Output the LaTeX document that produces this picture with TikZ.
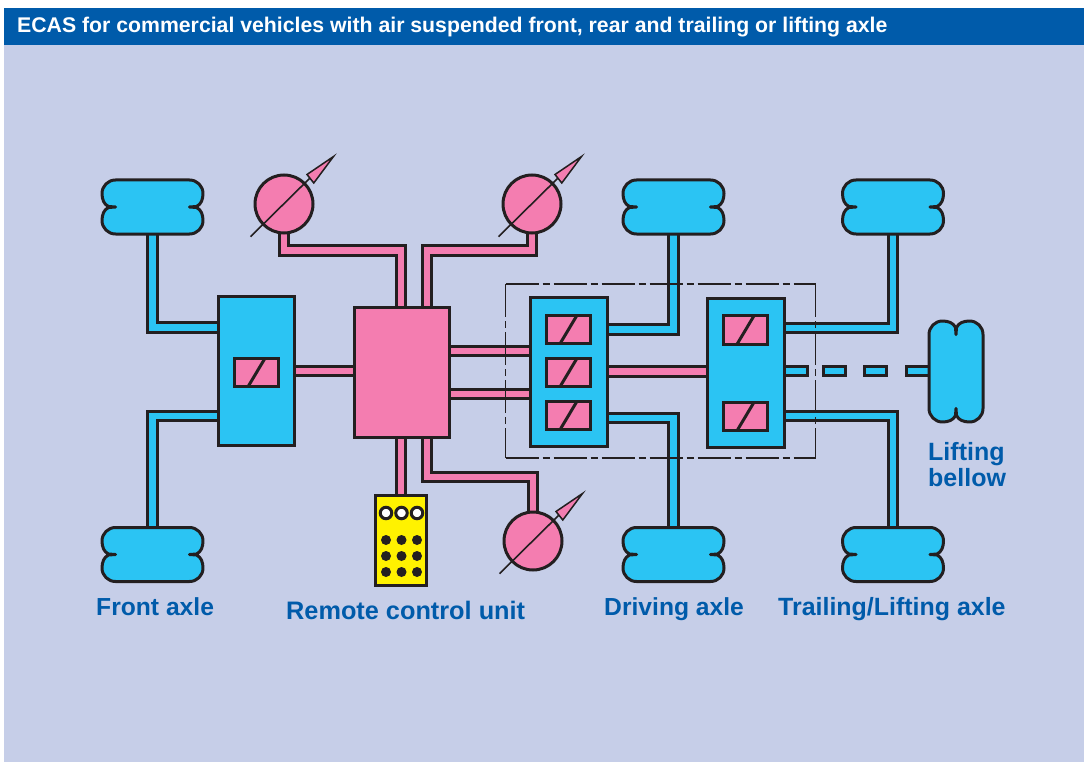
\documentclass[tikz,border=0pt]{standalone}
\usepackage{fontspec}
\setmainfont{Liberation Sans}
\definecolor{ink}{HTML}{231F20}
\definecolor{panelbg}{HTML}{C6CEE8}
\definecolor{headbg}{HTML}{005BAA}
\definecolor{cyanfill}{HTML}{2BC4F3}
\definecolor{pinkfill}{HTML}{F47DB0}
\definecolor{yellowfill}{HTML}{FFF200}
\pgfdeclarelayer{panel}
\pgfdeclarelayer{pipes}
\pgfsetlayers{panel,pipes,main}
\tikzset{
  x=1pt,y=-1pt,
  outline/.style={draw=ink,line width=3pt,outer sep=0pt,inner sep=0pt},
  bluebox/.style={outline,rectangle,fill=cyanfill},
  pinkbox/.style={outline,rectangle,fill=pinkfill},
  bluepipe/.style={draw=ink,line width=3pt,double=cyanfill,double distance=6.6pt,line join=miter},
  pinkpipe/.style={draw=ink,line width=3pt,double=pinkfill,double distance=6.6pt,line join=miter},
  bellowspot/.style={rectangle,minimum width=103pt,minimum height=54pt,inner sep=0pt,outer sep=0pt},
  vbellowspot/.style={rectangle,minimum width=54pt,minimum height=103pt,inner sep=0pt,outer sep=0pt},
  dashstub/.style={bluebox,minimum height=9.6pt},
  gaugebody/.style={outline,circle,fill=pinkfill,minimum size=58pt},
  frameline/.style={draw=ink,line width=1.5pt,dash pattern=on 33pt off 4pt on 7pt off 4pt},
  caption/.style={text=headbg,font=\bfseries\fontsize{24.65}{27}\selectfont,inner sep=0pt,anchor=base west},
  hbellow/.pic={
    \draw[fill=cyanfill,draw=ink,line width=3pt,line join=round]
      (-37,-27) -- (37,-27)
      .. controls (44.5,-27) and (50.5,-21) .. (50.5,-13.5)
      .. controls (50.5,-7.5) and (48.5,-2.5) .. (44,-0.5) -- (37,0) -- (44,0.5)
      .. controls (48.5,2.5) and (50.5,7.5) .. (50.5,13.5)
      .. controls (50.5,21) and (44.5,27) .. (37,27)
      -- (-37,27)
      .. controls (-44.5,27) and (-50.5,21) .. (-50.5,13.5)
      .. controls (-50.5,7.5) and (-48.5,2.5) .. (-44,0.5) -- (-37,0) -- (-44,-0.5)
      .. controls (-48.5,-2.5) and (-50.5,-7.5) .. (-50.5,-13.5)
      .. controls (-50.5,-21) and (-44.5,-27) .. (-37,-27) -- cycle;
  },
  needle/.pic={
    \draw[ink,line width=1.6pt] (-33.5,32.7) -- (26,-26);
    \draw[fill=pinkfill,draw=ink,line width=1.5pt,line join=miter]
      (49.5,-47.5) -- (23,-29.5) -- (29.8,-21) -- cycle;
  }
}
\newcommand{\valveat}[3]{%
  \node[pinkbox,minimum width=44pt,minimum height=28.5pt] (#1) at (#2,#3) {};
  \draw[ink,line width=3pt] ([xshift=-8.5pt]#1.south) -- ([xshift=8.5pt]#1.north);
}
\newcommand{\gaugeat}[3]{%
  \node[gaugebody] (#1) at (#2,#3) {};
  \pic at (#1) {needle};
}
\begin{document}
\begin{tikzpicture}
\useasboundingbox (0,0) rectangle (1084,762);
\begin{pgfonlayer}{panel}
  \fill[panelbg] (4,8) rectangle (1084,762);
  \fill[headbg] (4,8) rectangle (1084,45);
\end{pgfonlayer}
\node[inner sep=0pt,anchor=base west,text=white,font=\bfseries\fontsize{21.25}{23}\selectfont] (title) at (17,33)
  {ECAS for commercial vehicles with air suspended front, rear and trailing or lifting axle};

% air bellows
\node[bellowspot] (bFL) at (152.5,207) {}; \pic at (bFL) {hbellow};
\node[bellowspot] (bRL) at (152.5,554.5) {}; \pic at (bRL) {hbellow};
\node[bellowspot] (bDT) at (673.5,207) {}; \pic at (bDT) {hbellow};
\node[bellowspot] (bDB) at (673.5,554.5) {}; \pic at (bDB) {hbellow};
\node[bellowspot] (bTT) at (893,207) {}; \pic at (bTT) {hbellow};
\node[bellowspot] (bTB) at (893,554.5) {}; \pic at (bTB) {hbellow};
\node[vbellowspot] (bLift) at (956,371.5) {}; \pic[rotate=90] at (bLift) {hbellow};

% boxes
\node[bluebox,minimum width=76pt,minimum height=149pt] (front) at (256.5,371) {};
\node[pinkbox,minimum width=95pt,minimum height=130.5pt] (ecu) at (402,372.5) {};
\node[bluebox,minimum width=76.5pt,minimum height=149pt] (drive) at (569,371.5) {};
\node[bluebox,minimum width=76.5pt,minimum height=149pt] (trail) at (746,372.5) {};
\valveat{vF}{256.5}{372.5}
\valveat{vD1}{568.5}{329.5}
\valveat{vD2}{568.5}{372.5}
\valveat{vD3}{568.5}{415.5}
\valveat{vT1}{745.5}{330}
\valveat{vT2}{745.5}{416.5}

% remote control unit
\node[outline,rectangle,fill=yellowfill,minimum width=51pt,minimum height=90pt] (rcu) at (401,540.5) {};
\foreach \k/\px in {a/386,b/401.5,c/417}{
  \node[outline,circle,fill=white,minimum size=11.5pt] (led\k) at (\px,513) {};
  \foreach \m/\py in {1/540,2/556,3/572}{
    \node[circle,fill=ink,minimum size=10pt,inner sep=0pt] (key\k\m) at (\px,\py) {};
  }
}

% gauges
\gaugeat{g1}{284}{204}
\gaugeat{g2}{532}{204}
\gaugeat{g3}{533}{541}

% elbows
\coordinate (e1) at (401,250.5);
\coordinate (e2) at (427,250.5);
\coordinate (e3) at (427,477);
\coordinate (fT) at (152.5,327.5);
\coordinate (fB) at (152.5,416);
\coordinate (dT) at (673.5,329.5);
\coordinate (dB) at (673.5,418);
\coordinate (tT) at (893,328);
\coordinate (tB) at (893,416);

\begin{pgfonlayer}{pipes}
  % air lines
  \draw[bluepipe] (bFL.south) -- (fT) -- (fT -| front.west);
  \draw[bluepipe] (bRL.north) -- (fB) -- (fB -| front.west);
  \draw[bluepipe] (bDT.south) -- (dT) -- (dT -| drive.east);
  \draw[bluepipe] (bDB.north) -- (dB) -- (dB -| drive.east);
  \draw[bluepipe] (bTT.south) -- (tT) -- (tT -| trail.east);
  \draw[bluepipe] (bTB.north) -- (tB) -- (tB -| trail.east);
  % signal lines
  \draw[pinkpipe] (g1.south) |- (e1) -- (e1 |- ecu.north);
  \draw[pinkpipe] (g2.south) |- (e2) -- (e2 |- ecu.north);
  \draw[pinkpipe] (g3.north) |- (e3) -- (e3 |- ecu.south);
  \draw[pinkpipe] (rcu.north -| 401,0) -- (ecu.south -| 401,0);
  \draw[pinkpipe] (front.east |- 0,371) -- (ecu.west |- 0,371);
  \draw[pinkpipe,double distance=5.4pt] (ecu.east |- 0,351) -- (drive.west |- 0,351);
  \draw[pinkpipe,double distance=5.4pt] (ecu.east |- 0,394) -- (drive.west |- 0,394);
  \draw[pinkpipe,double distance=7.2pt] (drive.east |- 0,371.3) -- (trail.west |- 0,371.3);
  % dashed air line to the lifting bellow
  \node[dashstub,minimum width=30pt] (d1) at (792,371) {};
  \node[dashstub,minimum width=22pt] (d2) at (834.5,371) {};
  \node[dashstub,minimum width=22pt] (d3) at (875.5,371) {};
  \node[dashstub,minimum width=30pt] (d4) at (921,371) {};
\end{pgfonlayer}

% valve group frame
\coordinate (fNW) at (505.5,284);
\coordinate (fNE) at (815.7,284);
\coordinate (fSW) at (505.5,458);
\coordinate (fSE) at (815.7,458);
\draw[frameline] (fNW) -- (fNE);
\draw[frameline] (fSW) -- (fSE);
\draw[frameline] (fNW) -- (fSW);
\draw[frameline] (fNE) -- (fSE);

% labels
\node[caption] (lFront) at (96,615) {Front axle};
\node[caption,font=\bfseries\fontsize{25.3}{27}\selectfont] (lRemote) at (286,619) {Remote control unit};
\node[caption] (lDrive) at (604,615) {Driving axle};
\node[caption,font=\bfseries\fontsize{24.95}{27}\selectfont] (lTrail) at (778,615) {Trailing/Lifting axle};
\node[caption,font=\bfseries\fontsize{25}{27}\selectfont] (lLift) at (928,460.5) {Lifting};
\node[caption,font=\bfseries\fontsize{25}{27}\selectfont] (lBell) at (928,486.5) {bellow};
\end{tikzpicture}
\end{document}
